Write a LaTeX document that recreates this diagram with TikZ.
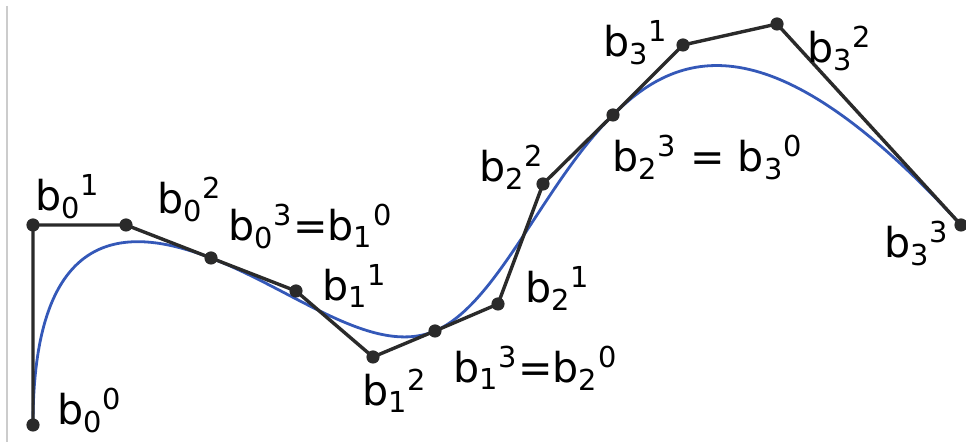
\documentclass[tikz,border=0pt]{standalone}
\usepackage{fontspec}
\setmainfont{DejaVu Sans}
\usepackage{tikz}

\definecolor{curveblue}{RGB}{52,88,184}
\definecolor{polygray}{RGB}{42,42,42}
\newcommand{\bpt}[2]{b\textsubscript{#1}\textsuperscript{#2}}

\begin{document}
\begin{tikzpicture}[x=0.5pt, y=-0.5pt,
	every node/.style={font=\fontsize{20.6}{24}\selectfont, inner sep=0pt, anchor=base west},
	ctrl/.style={circle, fill=polygray, minimum size=6.6pt, inner sep=0pt, anchor=center}]
	\useasboundingbox (0,0) rectangle (966,442);
	\draw[gray!40, line width=1pt] (6.5,6) -- (6.5,442);
	% control points
	\coordinate (b00) at (33,425);
	\coordinate (b01) at (33,225);
	\coordinate (b02) at (126,225);
	\coordinate (b03) at (211,258);
	\coordinate (b11) at (296,291);
	\coordinate (b12) at (373,357);
	\coordinate (b13) at (435,331);
	\coordinate (b21) at (498,304);
	\coordinate (b22) at (543,184);
	\coordinate (b23) at (613,115);
	\coordinate (b31) at (683,45);
	\coordinate (b32) at (777,24);
	\coordinate (b33) at (961,225);
	% curve
	\draw[curveblue, line width=1.4pt] (b00) .. controls (b01) and (b02) .. (b03)
		.. controls (b11) and (b12) .. (b13)
		.. controls (b21) and (b22) .. (b23)
		.. controls (b31) and (b32) .. (b33);
	% control polygon
	\draw[polygray, line width=1.7pt, line join=round] (b00) -- (b01) -- (b02) -- (b03) -- (b11) -- (b12) -- (b13)
		-- (b21) -- (b22) -- (b23) -- (b31) -- (b32) -- (b33);
	\foreach \p in {b00,b01,b02,b03,b11,b12,b13,b21,b22,b23,b31,b32,b33}
		\node[ctrl] at (\p) {};
	% labels
	\node (l00) at (57,425) {\bpt{0}{0}};
	\node (l01) at (35,211) {\bpt{0}{1}};
	\node (l02) at (157,214) {\bpt{0}{2}};
	\node (l03) at (228,241) {\bpt{0}{3}=\bpt{1}{0}};
	\node (l11) at (322,301) {\bpt{1}{1}};
	\node (l12) at (362,406) {\bpt{1}{2}};
	\node (l13) at (453,383) {\bpt{1}{3}=\bpt{2}{0}};
	\node (l21) at (525,303) {\bpt{2}{1}};
	\node (l22) at (479,182) {\bpt{2}{2}};
	\node (l23) at (612,172) {\bpt{2}{3} = \bpt{3}{0}};
	\node (l31) at (603,57) {\bpt{3}{1}};
	\node (l32) at (807,63) {\bpt{3}{2}};
	\node (l33) at (884,258) {\bpt{3}{3}};
\end{tikzpicture}
\end{document}
